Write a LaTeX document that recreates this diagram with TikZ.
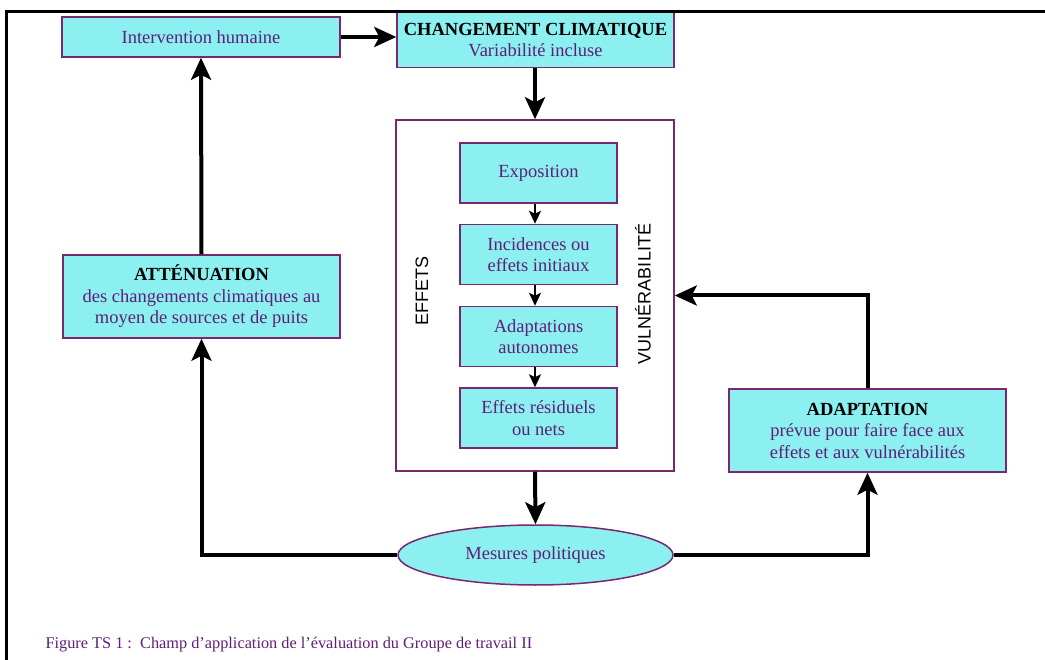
\documentclass[tikz,border=0pt]{standalone}
\usepackage{fontspec}
\setmainfont{Liberation Serif}
\setsansfont{Liberation Sans}
\usetikzlibrary{arrows.meta,shapes.geometric}
\definecolor{boxfill}{RGB}{140,240,240}
\definecolor{boxline}{RGB}{120,40,110}
\definecolor{txt}{RGB}{95,30,120}
\begin{document}
\begin{tikzpicture}[x=1pt,y=-1pt,
    box/.style={draw=boxline,fill=boxfill,line width=1.5pt,align=center,
      text=txt,inner sep=0pt,font=\fontsize{18.5}{21.5}\selectfont},
    bigarrow/.style={line width=4pt,-{Stealth[length=22pt,width=20pt,inset=5pt]}},
    smallarrow/.style={line width=2pt,-{Stealth[length=13pt,width=12pt,inset=3pt]}},
    sidelabel/.style={rotate=90,font=\sffamily\fontsize{18}{18}\selectfont}]
    \useasboundingbox (0,0) rectangle (1045,660);
    % boxes
    \node[box,minimum width=278pt,minimum height=40pt] (inter) at (201,37) {Intervention humaine};
    \node[box,minimum width=277pt,minimum height=55pt] (cc) at (535.5,40)
        {\textcolor{black}{\textbf{CHANGEMENT CLIMATIQUE}}\\Variabilité incluse};
    \node[box,fill=white,minimum width=278pt,minimum height=351pt] (big) at (535,295.5) {};
    \node[box,minimum width=157pt,minimum height=60pt] (expo) at (538.5,173) {Exposition};
    \node[box,minimum width=157pt,minimum height=60pt] (inc) at (538.5,254.5) {Incidences ou\\effets initiaux};
    \node[box,minimum width=157pt,minimum height=60pt] (auto) at (538.5,336.5) {Adaptations\\autonomes};
    \node[box,minimum width=157pt,minimum height=60pt] (resid) at (538.5,418) {Effets résiduels\\ou nets};
    \node[sidelabel] (effets) at (422,291) {EFFETS};
    \node[sidelabel] (vuln) at (643,294) {VULNÉRABILITÉ};
    \node[box,minimum width=277pt,minimum height=83pt] (attn) at (201.5,296.5)
        {\textcolor{black}{\textbf{ATTÉNUATION}}\\des changements climatiques au\\moyen de sources et de puits};
    \node[box,minimum width=277pt,minimum height=83pt] (adapt) at (867.5,430.5)
        {\textcolor{black}{\textbf{ADAPTATION}}\\prévue pour faire face aux\\effets et aux vulnérabilités};
    \node[box,ellipse,minimum width=275pt,minimum height=60pt] (mes) at (535.5,555) {Mesures politiques};
    % connectors
    \draw[bigarrow] (inter.east) -- (inter.east -| cc.west);
    \draw[bigarrow] (cc.south -| big.north) -- (big.north);
    \draw[bigarrow] (big.south) -- (mes.north);
    \draw[bigarrow] (attn.north) -- (inter.south);
    \draw[bigarrow] (mes.west) -| (attn.south);
    \draw[bigarrow] (mes.east) -| (adapt.south);
    \draw[bigarrow] (adapt.north) |- (big.east);
    \foreach \a/\b in {expo/inc,inc/auto,auto/resid}
        \draw[smallarrow] (\a.south -| big.north) -- (\b.north -| big.north);
    % frame and caption
    \draw[line width=3pt] (6,660) |- (1045,12);
    \node[anchor=west,text=txt,font=\fontsize{16.3}{18}\selectfont] (caption) at (42,645)
        {Figure TS 1 :\ \ Champ d'application de l'évaluation du Groupe de travail II};
\end{tikzpicture}
\end{document}
